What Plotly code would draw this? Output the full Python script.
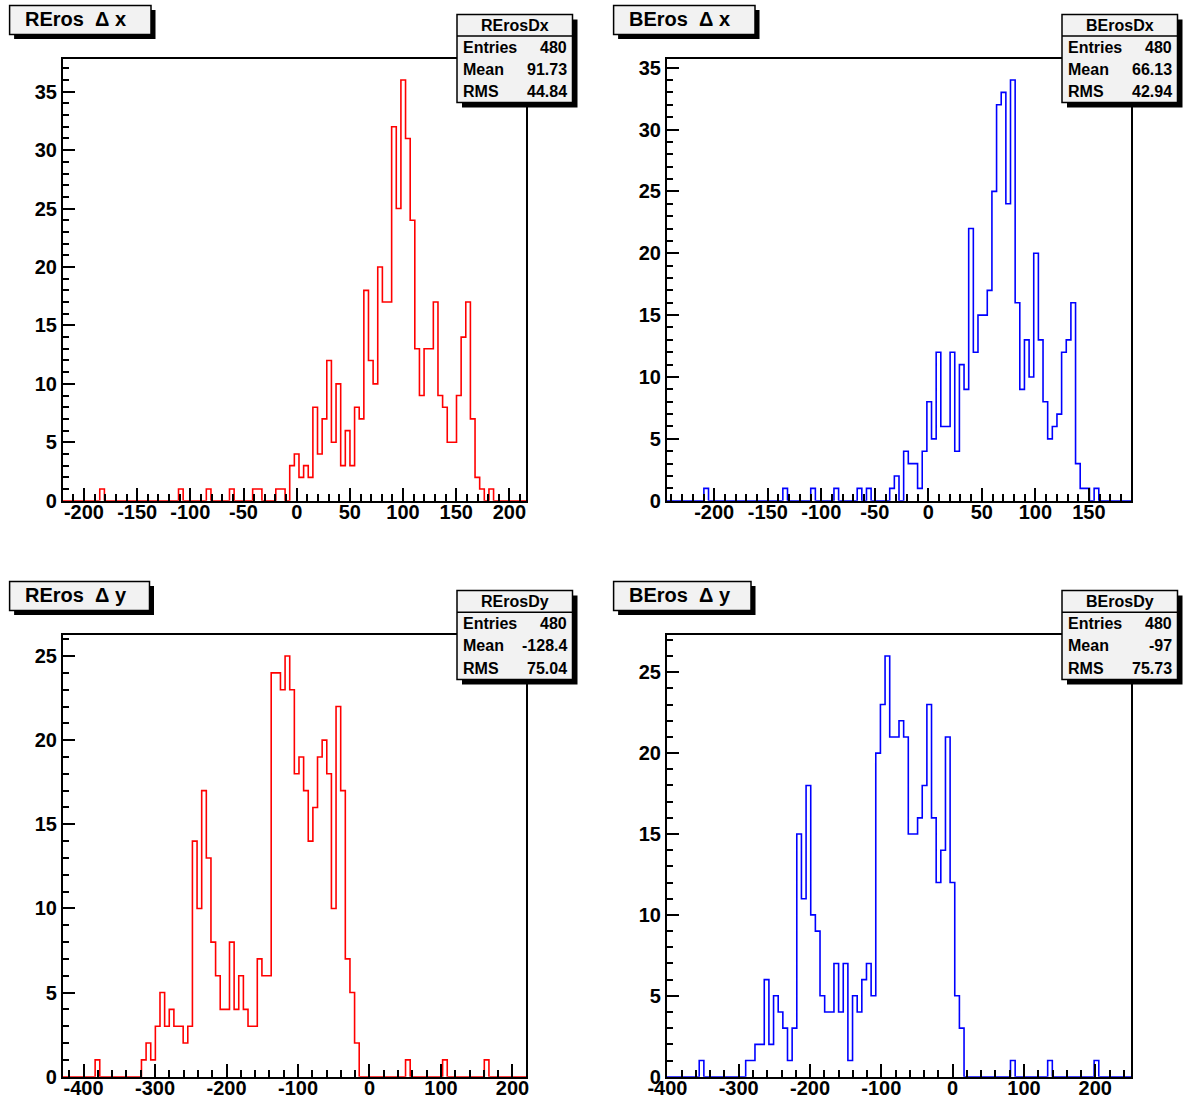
import plotly.graph_objects as go

W, H = 1183, 1102
NBINS = 100

# ---------------- data ----------------
titles = ["REros\u00a0\u00a0\u0394 x", "BEros\u00a0\u00a0\u0394 x", "REros\u00a0\u00a0\u0394 y", "BEros\u00a0\u00a0\u0394 y"]
hist_names = ["RErosDx", "BErosDx", "RErosDy", "BErosDy"]
entries = ["480", "480", "480", "480"]
means = ["91.73", "66.13", "-128.4", "-97"]
rmss = ["44.84", "42.94", "75.04", "75.73"]

x_ranges = [(-220.0, 215.6), (-244.4, 189.6), (-429.1, 218.9), (-401.0, 250.5)]
x_tickvals = [
    [-200, -150, -100, -50, 0, 50, 100, 150, 200],
    [-200, -150, -100, -50, 0, 50, 100, 150],
    [-400, -300, -200, -100, 0, 100, 200],
    [-400, -300, -200, -100, 0, 100, 200],
]
y_tickvals = [
    [0, 5, 10, 15, 20, 25, 30, 35],
    [0, 5, 10, 15, 20, 25, 30, 35],
    [0, 5, 10, 15, 20, 25],
    [0, 5, 10, 15, 20, 25],
]

rdx_counts = [
    0, 0, 0, 0, 0, 0, 0, 0, 1, 0,
    0, 0, 0, 0, 0, 0, 0, 0, 0, 0,
    0, 0, 0, 0, 0, 1, 0, 0, 0, 0,
    0, 1, 0, 0, 0, 0, 1, 0, 0, 0,
    0, 1, 1, 0, 0, 0, 1, 1, 0, 3,
    4, 2, 3, 2, 8, 4, 7, 12, 5, 10,
    3, 6, 3, 8, 7, 18, 12, 10, 20, 17,
    17, 32, 25, 36, 31, 24, 13, 9, 13, 13,
    17, 9, 8, 5, 5, 9, 14, 17, 7, 2,
    1, 0, 1, 0, 0, 0, 0, 0, 0, 0,
]
bdx_counts = [
    0, 0, 0, 0, 0, 0, 0, 0, 1, 0,
    0, 0, 0, 0, 0, 0, 0, 0, 0, 0,
    0, 0, 0, 0, 0, 1, 0, 0, 0, 0,
    0, 1, 0, 0, 0, 0, 1, 0, 0, 0,
    0, 1, 0, 1, 0, 0, 0, 0, 1, 2,
    0, 4, 3, 3, 1, 4, 8, 5, 12, 6,
    6, 12, 4, 11, 9, 22, 12, 15, 15, 17,
    25, 32, 33, 24, 34, 16, 9, 13, 10, 20,
    13, 8, 5, 6, 7, 12, 13, 16, 3, 1,
    1, 0, 1, 0, 0, 0, 0, 0, 0, 0,
]
rdy_counts = [
    0, 0, 0, 0, 0, 0, 0, 1, 0, 0,
    0, 0, 0, 0, 0, 0, 0, 1, 2, 1,
    3, 5, 3, 4, 3, 3, 2, 3, 14, 10,
    17, 13, 8, 6, 4, 4, 8, 4, 6, 4,
    3, 3, 7, 6, 6, 24, 24, 23, 25, 23,
    18, 19, 17, 14, 16, 19, 20, 18, 10, 22,
    17, 7, 5, 2, 0, 0, 0, 0, 0, 0,
    0, 0, 0, 0, 1, 0, 0, 0, 0, 0,
    0, 0, 1, 0, 0, 0, 0, 0, 0, 0,
    0, 1, 0, 0, 0, 0, 0, 0, 0, 0,
]
bdy_counts = [
    0, 0, 0, 0, 0, 0, 0, 1, 0, 0,
    0, 0, 0, 0, 0, 0, 0, 1, 1, 2,
    2, 6, 2, 5, 4, 3, 1, 3, 15, 11,
    18, 10, 9, 5, 4, 4, 7, 4, 7, 1,
    5, 4, 6, 7, 5, 20, 23, 26, 21, 21,
    22, 21, 15, 15, 16, 18, 23, 16, 12, 14,
    21, 12, 5, 3, 0, 0, 0, 0, 0, 0,
    0, 0, 0, 0, 1, 0, 0, 0, 0, 0,
    0, 0, 1, 0, 0, 0, 0, 0, 0, 0,
    0, 0, 1, 0, 0, 0, 0, 0, 0, 0,
]
all_counts = [rdx_counts, bdx_counts, rdy_counts, bdy_counts]
colors = ["#ff0000", "#0000ff", "#ff0000", "#0000ff"]
x_minor = [10, 10, 20, 20]

# ---------------- layout geometry (pixels) ----------------
frames = [  # left, right, top, bottom
    (62.7, 526.0, 59.0, 500.7),
    (666.7, 1131.3, 59.0, 500.7),
    (62.7, 526.0, 635.0, 1076.7),
    (666.7, 1131.3, 635.0, 1076.7),
]
title_boxes = [(9.6, 151.0, 5.5, 34.5), (613.6, 755.0, 5.5, 34.5),
               (9.6, 149.5, 581.5, 610.5), (613.6, 751.0, 581.5, 610.5)]
stat_boxes = [(457.0, 572.5, 14.5, 102.5), (1062.0, 1177.5, 14.5, 102.5),
              (457.0, 572.5, 590.5, 679.5), (1062.0, 1177.5, 590.5, 679.5)]

FONT = "Liberation Sans, Arial, Helvetica, sans-serif"


def px(x):
    return x / W


def py(y):
    return 1 - y / H


def fmt(v):
    return str(v)  # plain hyphen-minus, as in the original


fig = go.Figure()
shapes = []
annotations = []

for i in range(4):
    counts = all_counts[i]
    xmin, xmax = x_ranges[i]
    w = (xmax - xmin) / NBINS
    edges = [xmin + k * w for k in range(NBINS + 1)]
    yvals = list(counts) + [counts[-1]]
    xa = "x" if i == 0 else f"x{i+1}"
    ya = "y" if i == 0 else f"y{i+1}"
    fig.add_trace(go.Scatter(
        x=edges, y=yvals, mode="lines", line=dict(color=colors[i], width=1.6, shape="hv"),
        xaxis=xa, yaxis=ya, showlegend=False, cliponaxis=False, hoverinfo="skip"))

    l, r, t, b = frames[i]
    ymax = max(counts) * 1.05
    axkey = "xaxis" if i == 0 else f"xaxis{i+1}"
    aykey = "yaxis" if i == 0 else f"yaxis{i+1}"
    common = dict(showline=True, mirror=True, linecolor="black", linewidth=1.5,
                  ticks="inside", tickcolor="black", tickwidth=1.5, ticklen=13,
                  showgrid=False, zeroline=False, automargin=False, tickmode="array",
                  tickfont=dict(family=FONT, size=20, color="black", weight="bold"))
    fig.update_layout({
        axkey: dict(domain=[px(l), px(r)], range=[xmin, xmax], anchor=ya,
                    tickvals=x_tickvals[i], ticktext=[fmt(v) for v in x_tickvals[i]],
                    ticklabelstandoff=-7,
                    minor=dict(ticks="inside", ticklen=7, tickwidth=1.5, tickcolor="black",
                               dtick=x_minor[i], tick0=0, showgrid=False),
                    **common),
        aykey: dict(domain=[py(b), py(t)], range=[0, ymax], anchor=xa,
                    tickvals=y_tickvals[i], ticktext=[fmt(v) for v in y_tickvals[i]],
                    minor=dict(ticks="inside", ticklen=7, tickwidth=1.5, tickcolor="black",
                               dtick=1, tick0=0, showgrid=False),
                    **common),
    })

    # title box with shadow
    tl, tr, tt, tb = title_boxes[i]
    shapes.append(dict(type="rect", xref="paper", yref="paper", x0=px(tl + 4.5), x1=px(tr + 4.5),
                       y0=py(tb + 4.5), y1=py(tt + 4.5), fillcolor="black", line=dict(width=0)))
    shapes.append(dict(type="rect", xref="paper", yref="paper", x0=px(tl), x1=px(tr),
                       y0=py(tb), y1=py(tt), fillcolor="#f2f2f2", line=dict(color="black", width=1.5)))
    annotations.append(dict(xref="paper", yref="paper", x=px(tl + 13), y=py((tt + tb) / 2 - 1),
                            text=titles[i], showarrow=False, xanchor="left", yanchor="middle",
                            font=dict(family=FONT, size=20, color="black", weight="bold")))

    # stats box with shadow
    sl, sr, st, sb = stat_boxes[i]
    shapes.append(dict(type="rect", xref="paper", yref="paper", x0=px(sl + 5), x1=px(sr + 5),
                       y0=py(sb + 5), y1=py(st + 5), fillcolor="black", line=dict(width=0)))
    shapes.append(dict(type="rect", xref="paper", yref="paper", x0=px(sl), x1=px(sr),
                       y0=py(sb), y1=py(st), fillcolor="#f2f2f2", line=dict(color="black", width=1.5)))
    hdr = st + (sb - st) * 0.245
    shapes.append(dict(type="line", xref="paper", yref="paper", x0=px(sl), x1=px(sr),
                       y0=py(hdr), y1=py(hdr), line=dict(color="black", width=1.5)))
    sfont = dict(family=FONT, size=16, color="black", weight="bold")
    annotations.append(dict(xref="paper", yref="paper", x=px((sl + sr) / 2), y=py((st + hdr) / 2),
                            text=hist_names[i], showarrow=False, xanchor="center", yanchor="middle",
                            font=sfont))
    row_h = (sb - hdr) / 3
    labels = ["Entries", "Mean", "RMS"]
    vals = [entries[i], means[i], rmss[i]]
    for j in range(3):
        yc = hdr + row_h * (j + 0.5)
        annotations.append(dict(xref="paper", yref="paper", x=px(sl + 4), y=py(yc),
                                text=labels[j], showarrow=False, xanchor="left", yanchor="middle",
                                font=sfont))
        annotations.append(dict(xref="paper", yref="paper", x=px(sr - 4), y=py(yc),
                                text=vals[j], showarrow=False, xanchor="right", yanchor="middle",
                                font=sfont))

fig.update_layout(width=W, height=H, margin=dict(l=0, r=0, t=0, b=0, autoexpand=False),
                  paper_bgcolor="white", plot_bgcolor="white",
                  shapes=shapes, annotations=annotations, showlegend=False)

fig.write_html("out.html", config={"displayModeBar": False},
               post_script="document.body.style.margin='0px';document.body.style.overflow='hidden';")
